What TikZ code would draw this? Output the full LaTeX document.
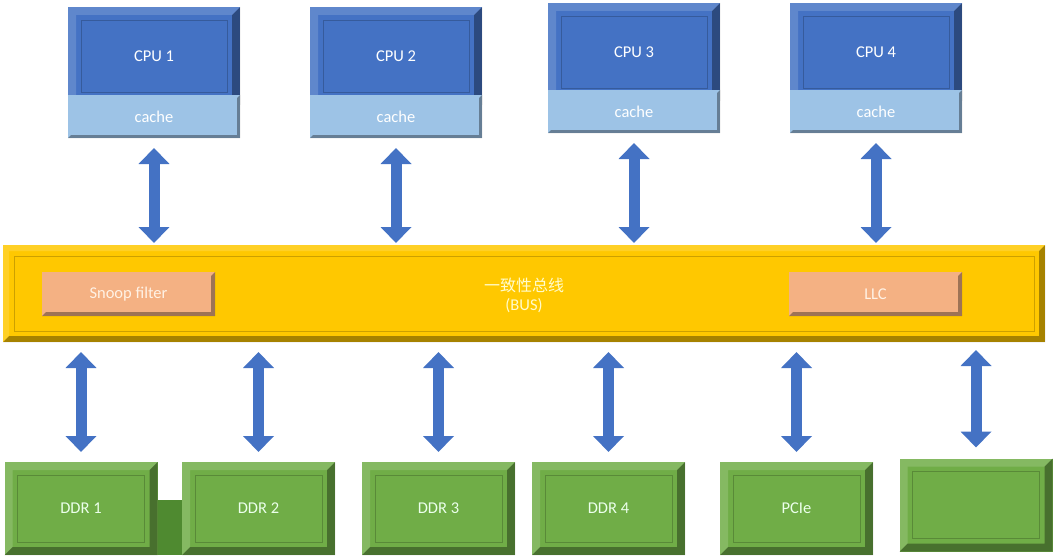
\documentclass[tikz,border=0pt]{standalone}
\usepackage{fontspec}
\setmainfont{Carlito}
\newfontfamily\cjk{Noto Sans CJK SC}
\usetikzlibrary{arrows.meta,calc}
\definecolor{cpublue}{HTML}{4472C4}
\definecolor{cacheblue}{HTML}{9DC3E6}
\definecolor{busyellow}{HTML}{FFC800}
\definecolor{salmon}{HTML}{F4B183}
\definecolor{ddrgreen}{HTML}{70AD47}
\definecolor{darkgreen}{HTML}{4F8A30}
\definecolor{arrowblue}{HTML}{4472C4}
\tikzset{
  bevel/.style={path picture={
    \path (path picture bounding box.south west) coordinate (bsw)
          (path picture bounding box.north east) coordinate (bne)
          (path picture bounding box.north west) coordinate (bnw)
          (path picture bounding box.south east) coordinate (bse);
    \fill[black,opacity=.35] (bsw) -- (bse) -- (bne) -- ([xshift=-#1,yshift=-#1]bne)
       -- ([xshift=-#1,yshift=#1]bse) -- ([xshift=#1,yshift=#1]bsw) -- cycle;
    \fill[white,opacity=.15] (bsw) -- (bnw) -- (bne) -- ([xshift=-#1,yshift=-#1]bne)
       -- ([xshift=#1,yshift=-#1]bnw) -- ([xshift=#1,yshift=#1]bsw) -- cycle;
    \draw[black,opacity=.2,line width=.8pt] ([xshift=#1+5pt,yshift=#1+5pt]bsw) rectangle ([xshift=-#1-5pt,yshift=-#1-5pt]bne);
  }},
  shade/.style={path picture={
    \path (path picture bounding box.south west) coordinate (bsw)
          (path picture bounding box.north east) coordinate (bne)
          (path picture bounding box.south east) coordinate (bse);
    \fill[black,opacity=.35] (bsw) -- (bse) -- (bne) -- ([xshift=-#1,yshift=-#1]bne)
       -- ([xshift=-#1,yshift=#1]bse) -- ([xshift=#1,yshift=#1]bsw) -- cycle;
  }},
  box/.style={inner sep=0pt, outer sep=0pt, font=\fontsize{16.5}{18}\selectfont},
  cpubox/.style={box, fill=cpublue, minimum width=172pt, minimum height=98pt, text=white, bevel=8pt},
  cachebox/.style={box, fill=cacheblue, minimum width=172pt, minimum height=43pt, text=white, shade=3pt},
  ddrbox/.style={box, fill=ddrgreen, minimum width=153pt, minimum height=93pt, text=green!8!white, bevel=8pt},
  innerbox/.style={box, fill=salmon, minimum width=173pt, minimum height=44pt, text=orange!10!white, shade=4pt},
  busbox/.style={box, fill=busyellow, minimum width=1042pt, minimum height=97pt, text=yellow!20!white, bevel=6pt},
  barrow/.style={draw=arrowblue, line width=11pt,
     {Triangle[width=30pt,length=16pt]}-{Triangle[width=30pt,length=16pt]}},
}
\begin{document}
\begin{tikzpicture}[x=1pt,y=-1pt]
\useasboundingbox[fill=white] (0,0) rectangle (1056,559);
% CPUs
\node[cpubox] (cpu1) at (154,56) {CPU 1};
\node[cachebox] (cache1) at (154,116.5) {cache};
\node[cpubox] (cpu2) at (396,56) {CPU 2};
\node[cachebox] (cache2) at (396,116.5) {cache};
\node[cpubox] (cpu3) at (634,52) {CPU 3};
\node[cachebox] (cache3) at (634,111.5) {cache};
\node[cpubox] (cpu4) at (876,52) {CPU 4};
\node[cachebox] (cache4) at (876,111.5) {cache};
% bus
\node[busbox] (bus) at (524,293.5) {};
\node[box, text=yellow!20!white, align=center] (buslabel) at (524,295) {{\cjk\fontsize{16}{18}\selectfont 一致性总线}\\[1pt](BUS)};
\node[innerbox] (snoop) at (128.5,294) {Snoop filter};
\node[innerbox] (llc) at (875.5,294) {LLC};
% filler between DDR1 and DDR2
\fill[darkgreen] (155,500) rectangle (185,555);
% bottom boxes
\node[ddrbox] (ddr1) at (81,508.5) {DDR 1};
\node[ddrbox] (ddr2) at (258.5,508.5) {DDR 2};
\node[ddrbox] (ddr3) at (438.5,508.5) {DDR 3};
\node[ddrbox] (ddr4) at (608.5,508.5) {DDR 4};
\node[ddrbox] (pcie) at (796.5,508.5) {PCIe};
\node[ddrbox] (dev6) at (976,505) {};
% arrows top
\foreach \c in {cache1,cache2,cache3,cache4}
  \draw[barrow, shorten <=10pt, shorten >=2pt] (\c.south) -- (\c.south |- bus.north);
% arrows bottom
\foreach \d in {ddr1,ddr2,ddr3,ddr4,pcie}
  \draw[barrow, shorten <=10pt, shorten >=10pt] (\d.north |- bus.south) -- (\d.north);
\draw[barrow, shorten <=8pt, shorten >=11pt] (dev6.north |- bus.south) -- (dev6.north);
\end{tikzpicture}
\end{document}
